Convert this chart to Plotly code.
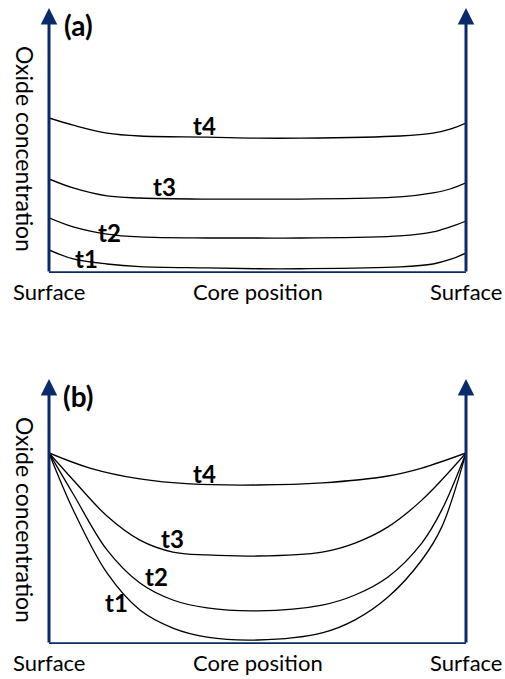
import plotly.graph_objects as go

# ---------------- data (position across the core: 0 = surface, 50 = core, 100 = surface) ----------------
series_names = ["t1", "t2", "t3", "t4"]

# Panel (a): oxide concentration profiles
a_x = [0, 5.8, 13.9, 21.8, 37.9, 50, 60.2, 84.2, 92.1, 96.2, 100]
a_t1 = [8.7, 5.3, 3.4, 2.4, 1.9, 1.6, 1.6, 2.3, 3.4, 5.1, 7.5]
a_t2 = [20.8, 17.4, 14.7, 13.6, 13.2, 13.2, 13.2, 14.0, 15.5, 17.4, 19.6]
a_t3 = [35.5, 32.1, 29.1, 28.3, 27.9, 27.9, 27.9, 28.7, 30.2, 31.7, 34.0]
a_t4 = [58.5, 55.8, 52.8, 51.7, 51.3, 50.9, 50.9, 51.7, 52.8, 54.3, 56.6]

# Panel (b): oxide concentration profiles
b_t4_x = [0, 9.8, 21.8, 33.8, 50, 65.5, 81.3, 89.4, 100]
b_t4 = [72.1, 66.4, 62.3, 60.4, 60.0, 60.8, 63.4, 66.4, 72.1]
b_t3_x = [0, 5.8, 13.9, 21.8, 29.7, 37.9, 50, 65.5, 73.4, 81.3, 89.4, 100]
b_t3 = [72.1, 61.9, 48.3, 39.2, 34.7, 33.6, 33.2, 34.7, 38.1, 44.2, 54.3, 72.1]
b_x = [0, 5.8, 13.9, 21.8, 29.7, 37.9, 50, 65.5, 73.4, 81.3, 89.4, 94.2, 100]
b_t2 = [72.1, 56.6, 35.5, 23.0, 16.6, 13.6, 12.5, 14.7, 18.5, 25.3, 38.1, 50.6, 72.1]
b_t1 = [72.1, 50.6, 26.8, 12.8, 6.0, 2.6, 1.5, 4.2, 9.1, 17.7, 31.7, 44.2, 72.1]

# curve label anchor positions (position, concentration)
a_label_x = [8.9, 14.6, 27.8, 37.2]
a_label_y = [5.3, 15.1, 32.5, 55.5]
b_label_x = [16.3, 25.7, 29.5, 37.4]
b_label_y = [15.5, 25.3, 40.0, 64.2]

x_tick_labels = ["Surface", "Core position", "Surface"]
x_tick_pos = [0, 50, 100]
y_title = "Oxide concentration"
panel_titles = ["(a)", "(b)"]

# ---------------- figure ----------------
W, H = 505, 679
NAVY = "#0b2a6b"
FONT = "Lato"

def px_x(p):
    return p / W

def px_y(p):
    return (H - p) / H

fig = go.Figure()

line_style = dict(color="black", width=1.3, shape="spline", smoothing=1.0)

for name, ys in zip(series_names, [a_t1, a_t2, a_t3, a_t4]):
    fig.add_trace(go.Scatter(x=a_x, y=ys, mode="lines", line=line_style, name=name,
                             xaxis="x", yaxis="y", showlegend=False, hoverinfo="skip"))

for name, xs, ys in zip(series_names, [b_x, b_x, b_t3_x, b_t4_x], [b_t1, b_t2, b_t3, b_t4]):
    fig.add_trace(go.Scatter(x=xs, y=ys, mode="lines", line=line_style, name=name,
                             xaxis="x2", yaxis="y2", showlegend=False, hoverinfo="skip"))

xdom = [px_x(49), px_x(466)]
hidden = dict(visible=False, showgrid=False, zeroline=False, fixedrange=True)
fig.update_layout(
    width=W, height=H,
    margin=dict(l=0, r=0, t=0, b=0),
    paper_bgcolor="white", plot_bgcolor="rgba(0,0,0,0)",
    xaxis=dict(domain=xdom, range=[0, 100], anchor="y", **hidden),
    yaxis=dict(domain=[px_y(273), px_y(8)], range=[0, 100], anchor="x", **hidden),
    xaxis2=dict(domain=xdom, range=[0, 100], anchor="y2", **hidden),
    yaxis2=dict(domain=[px_y(644), px_y(379)], range=[0, 100], anchor="x2", **hidden),
)

annotations = []
shapes = []
panels = [("x", "y", a_label_x, a_label_y, 0), ("x2", "y2", b_label_x, b_label_y, 371)]
for i, (xr, yr, lx, ly, off) in enumerate(panels):
    # vertical axes with arrowheads
    for xv in (0, 100):
        annotations.append(dict(x=xv, y=100, ax=xv, ay=0, xref=xr, yref=yr, axref=xr, ayref=yr,
                                text="", showarrow=True, arrowhead=2, arrowsize=1.1,
                                arrowwidth=3, arrowcolor=NAVY, standoff=0))
    # bottom axis
    shapes.append(dict(type="line", xref=xr, yref=yr, x0=-0.35, x1=100.35, y0=0, y1=0,
                       line=dict(color=NAVY, width=3.5)))
    # curve labels
    for name, xv, yv in zip(series_names, lx, ly):
        annotations.append(dict(x=xv, y=yv, xref=xr, yref=yr, text="<b>%s</b>" % name,
                                showarrow=False, font=dict(family=FONT, size=24, color="black"),
                                xanchor="center", yanchor="middle"))
    # x labels
    for lab, xv in zip(x_tick_labels, x_tick_pos):
        annotations.append(dict(x=xv, y=px_y(291 + off), xref=xr, yref="paper", text=lab,
                                showarrow=False, font=dict(family=FONT, size=22, color="black"),
                                xanchor="center", yanchor="middle"))
    # y title
    annotations.append(dict(x=px_x(25), y=px_y(149 + off), xref="paper", yref="paper",
                            text=y_title, textangle=90, showarrow=False,
                            font=dict(family=FONT, size=23, color="black"),
                            xanchor="center", yanchor="middle"))
    # panel title
    annotations.append(dict(x=px_x(78), y=px_y(25 + off), xref="paper", yref="paper",
                            text="<b>%s</b>" % panel_titles[i], showarrow=False,
                            font=dict(family=FONT, size=28, color="black"),
                            xanchor="center", yanchor="middle"))

fig.update_layout(annotations=annotations, shapes=shapes)
fig.write_html("out.html")
